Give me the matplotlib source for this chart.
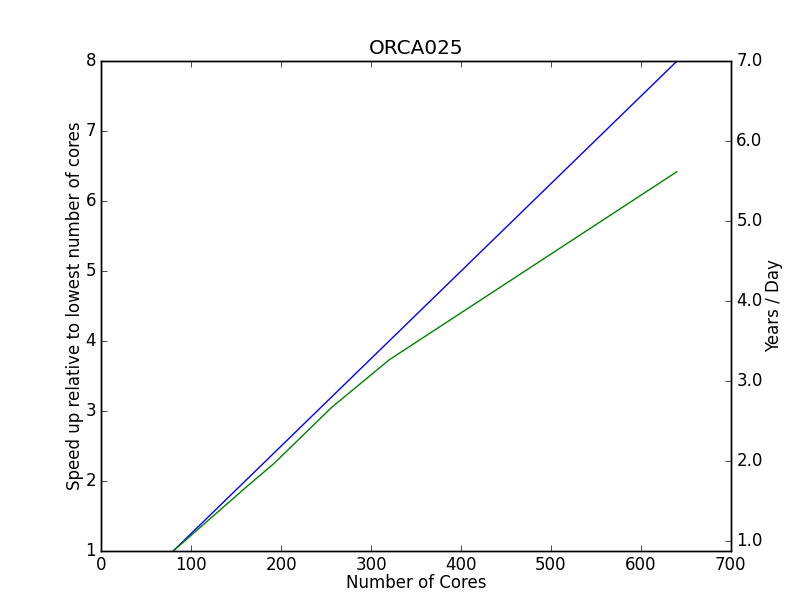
import numpy as np
import matplotlib
matplotlib.use('Agg')
import matplotlib.pyplot as plt

cores = [80, 160, 192, 256, 320, 640]
ideal = [1.0, 2.0, 2.4, 3.2, 4.0, 8.0]
speedup = [1.0, 1.9, 2.25, 3.05, 3.73, 6.42]
base_ypd = 0.875  # years/day at lowest core count

plt.style.use('classic')
plt.rcParams['figure.facecolor'] = 'white'
plt.rcParams['savefig.facecolor'] = 'white'

fig = plt.figure(figsize=(8.12, 6.12), dpi=100)
ax = fig.add_subplot(111)
ax.plot(cores, ideal, 'b-', linewidth=1)
ax.plot(cores, speedup, 'g-', linewidth=1)
ax.set_xlim(0, 700)
ax.set_ylim(1, 8)
ax.set_xlabel('Number of Cores', labelpad=0)
ax.set_ylabel('Speed up relative to lowest number of cores', labelpad=1)
ax.set_title('ORCA025')

ax2 = ax.twinx()
ax2.set_ylim(base_ypd * 1, base_ypd * 8)
ax2.set_yticks(np.arange(1.0, 7.01, 1.0))
ax2.yaxis.set_major_formatter(matplotlib.ticker.FormatStrFormatter('%.1f'))
ax2.set_ylabel('Years / Day', labelpad=2)

fig.savefig('out.png', dpi=100)
